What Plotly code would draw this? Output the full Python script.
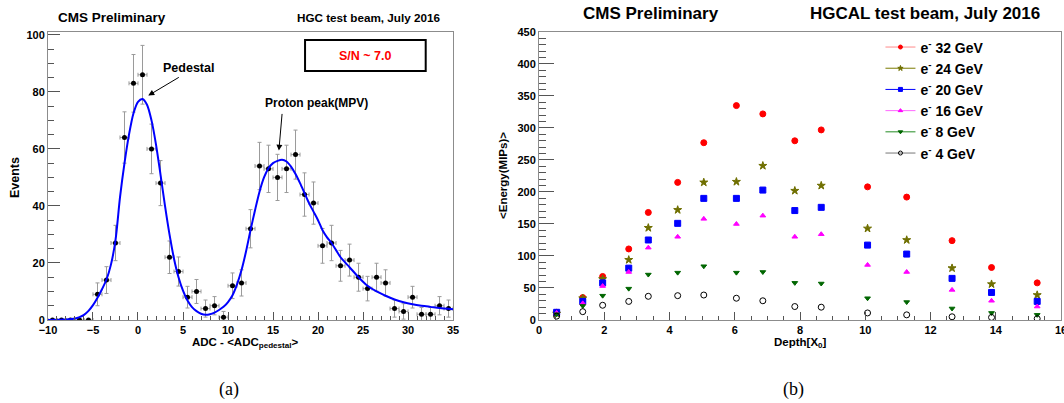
import numpy as np
import plotly.graph_objects as go

# ---------------- Panel (a) data ----------------
adc_bin_centers = [-9.5, -8.5, -7.5, -6.5, -5.5, -4.5, -3.5, -2.5, -1.5, -0.5,
                   0.5, 1.5, 2.5, 3.5, 4.5, 5.5, 6.5, 7.5, 8.5, 9.5,
                   10.5, 11.5, 12.5, 13.5, 14.5, 15.5, 16.5, 17.5, 18.5, 19.5,
                   20.5, 21.5, 22.5, 23.5, 24.5, 25.5, 26.5, 27.5, 28.5, 29.5,
                   30.5, 31.5, 32.5, 33.5, 34.5]
adc_counts = [0, 0, 0, 0, 0, 9, 14, 27, 64, 83,
              86, 60, 48, 22, 17, 8, 10, 4, 5, 1,
              12, 13, 32, 54, 53, 50, 53, 58, 44, 41,
              26, 27, 19, 21, 15, 11, 15, 13, 4, 3,
              8, 2, 2, 5, 4]
adc_errors = [0, 0, 0, 0, 0, 4.0, 4.7, 6.2, 9.0, 10.1,
              10.3, 8.7, 7.9, 5.7, 5.1, 3.8, 4.2, 3.0, 3.2, 2.0,
              4.5, 4.6, 6.7, 8.3, 8.3, 8.1, 8.3, 8.6, 7.6, 7.4,
              6.1, 6.2, 5.4, 5.6, 4.9, 4.3, 4.9, 4.6, 3.0, 2.7,
              3.8, 2.4, 2.4, 3.2, 3.0]
adc_bin_halfwidth = 0.5

# fit curve
fit_x = [-10, -9, -8, -7, -6.5, -6, -5.5, -5, -4.5, -4, -3.5, -3, -2.5, -2, -1.5, -1, -0.5,
         0, 0.5, 1, 1.5, 2, 2.5, 3, 3.5, 4, 4.5, 5, 5.5, 6, 6.5, 7, 7.5, 8, 8.5, 9, 9.5,
         10, 10.5, 11, 11.5, 12, 12.5, 13, 13.5, 14, 14.5, 15, 15.5, 16, 16.5, 17, 17.5,
         18, 18.5, 19, 19.5, 20, 20.5, 21, 21.5, 22, 22.5, 23, 23.5, 24.5, 25.5, 26.5,
         27.5, 28.5, 29.5, 30.5, 31.5, 32.5, 33.5, 34.5, 35]
fit_y = [0.0, 0.05, 0.15, 0.5, 1.0, 1.8, 3.2, 5.2, 7.8, 10.8, 14.2, 19.5, 28, 43, 55, 65, 72.5,
         76.5, 77.5, 75.5, 70, 61.5, 51, 40, 30, 21.5, 15, 10.3, 6.8, 4.5, 3.1, 2.2, 1.8, 2.0,
         2.6, 3.5, 4.6, 6.3, 8.7, 12.5, 17.5, 24, 31.5, 38.5, 45, 50, 53.2, 55, 55.8, 56.2,
         55.6, 53.8, 51.2, 48, 44.5, 41, 38, 35, 31.5, 29, 27, 24.5, 22, 20.2, 18.5, 15, 12,
         10, 8.5, 7.2, 6.2, 5.5, 5.0, 4.6, 4.2, 3.9, 3.8]

# ---------------- Panel (b) data ----------------
depth = [0.54, 1.34, 1.95, 2.75, 3.35, 4.25, 5.05, 6.05, 6.86, 7.84,
         8.65, 10.07, 11.27, 12.66, 13.87, 15.27]
e32 = [12, 35, 68, 111, 168, 215, 277, 335, 322, 280, 297, 208, 192, 124, 82, 58]
e24 = [10, 34, 64, 94, 144, 172, 215, 216, 241, 202, 210, 143, 125, 81, 56, 39]
e20 = [12, 29, 58, 81, 125, 151, 190, 190, 203, 171, 176, 117, 103, 65, 43, 29]
e16 = [11, 26, 53, 75, 113, 130, 158, 150, 163, 130, 134, 86, 75, 47, 30, 21]
e8 = [9, 22, 38, 49, 71, 74, 84, 74, 75, 58, 57, 34, 28, 18, 11, 8]
e4 = [6, 13, 23, 29, 37, 38, 39, 34, 30, 21, 20, 11, 8, 5, 4, 2]
series_names = ["e<sup>-</sup> 32 GeV", "e<sup>-</sup> 24 GeV", "e<sup>-</sup> 20 GeV",
                "e<sup>-</sup> 16 GeV", "e<sup>-</sup> 8 GeV", "e<sup>-</sup> 4 GeV"]

FONT = "Liberation Sans"
AX = "#8c8c8c"

fig = go.Figure()

# ---- panel (a) ----
fig.add_trace(go.Scatter(
    x=adc_bin_centers, y=adc_counts, mode="markers",
    marker=dict(color="black", size=5),
    error_y=dict(type="data", array=adc_errors, color="#9a9a9a", thickness=1, width=2),
    error_x=dict(type="constant", value=adc_bin_halfwidth, color="#9a9a9a", thickness=1, width=2),
    xaxis="x", yaxis="y", showlegend=False, hoverinfo="skip"))
fig.add_trace(go.Scatter(
    x=fit_x, y=fit_y, mode="lines", line=dict(color="#0000ff", width=2, shape="spline", smoothing=0.8),
    xaxis="x", yaxis="y", showlegend=False, hoverinfo="skip"))

# ---- panel (b) ----
styles = [
    dict(symbol="circle", color="#ff0000", size=6, line="#ff8a8a"),
    dict(symbol="star", color="#6f6f00", size=6, line="#7a7a00"),
    dict(symbol="square", color="#0000ff", size=6, line="#0000ff"),
    dict(symbol="triangle-up", color="#ff00ff", size=5, line="#ff66ff"),
    dict(symbol="triangle-down", color="#006600", size=5, line="#228b22"),
    dict(symbol="circle-open", color="#000000", size=6, line="#777777"),
]
for vals, name, st in zip([e32, e24, e20, e16, e8, e4], series_names, styles):
    fig.add_trace(go.Scatter(
        x=depth, y=vals, mode="markers",
        marker=dict(symbol=st["symbol"], color=st["color"], size=st["size"],
                    line=dict(color=st["color"], width=1)),
        xaxis="x2", yaxis="y2", showlegend=False, hoverinfo="skip"))
    fig.add_trace(go.Scatter(
        x=[None], y=[None], mode="lines+markers", name=name,
        line=dict(color=st["line"], width=1),
        marker=dict(symbol=st["symbol"], color=st["color"], size=max(st["size"] - 2, 4),
                    line=dict(color=st["color"], width=1)),
        xaxis="x2", yaxis="y2", showlegend=True))

tickfont = dict(family=FONT, size=11, color="black", weight="bold")
common = dict(showline=True, linecolor=AX, linewidth=1, mirror=True, ticks="inside",
              tickcolor="#555555", tickwidth=1, showgrid=False, zeroline=False,
              tickfont=tickfont, automargin=False, ticklabeloverflow="allow")

fig.update_layout(
    width=1064, height=403,
    margin=dict(l=0, r=0, t=0, b=0),
    paper_bgcolor="white", plot_bgcolor="white",
    font=dict(family=FONT, color="black"),
    xaxis=dict(domain=[0.0451, 0.4258], range=[-10, 35], tick0=-10, dtick=5, ticklen=8,
               minor=dict(dtick=1, ticklen=4, ticks="inside", tickcolor="#555555", showgrid=False),
               anchor="y", **common),
    yaxis=dict(domain=[0.206, 0.9206], range=[0, 101], tick0=0, dtick=20, ticklen=12,
               minor=dict(dtick=5, ticklen=6, ticks="inside", tickcolor="#555555", showgrid=False),
               anchor="x", **common),
    xaxis2=dict(domain=[0.5066, 0.9972], range=[0, 16], tick0=0, dtick=2, ticklen=8,
                minor=dict(dtick=0.5, ticklen=4, ticks="inside", tickcolor="#555555", showgrid=False),
                anchor="y2", **common),
    yaxis2=dict(domain=[0.206, 0.9206], range=[0, 450], tick0=0, dtick=50, ticklen=15,
                minor=dict(dtick=10, ticklen=7, ticks="inside", tickcolor="#555555", showgrid=False),
                anchor="x2", **common),
    legend=dict(x=0.8275, y=0.922, xanchor="left", yanchor="top",
                bgcolor="rgba(0,0,0,0)", borderwidth=0,
                font=dict(family=FONT, size=14, color="black", weight="bold"),
                itemwidth=30, tracegroupgap=0),
)

def ann(text, x, y, size, bold=True, color="black", xanchor="center", angle=0, family=FONT):
    fig.add_annotation(text=text, x=x, y=y, xref="paper", yref="paper", showarrow=False,
                       xanchor=xanchor, yanchor="middle", textangle=angle,
                       font=dict(family=family, size=size, color=color,
                                 weight="bold" if bold else "normal"))

# titles
ann("CMS Preliminary", 0.1053, 0.9578, 13.5)
ann("HGC test beam, July 2016", 0.4154, 0.9578, 11.7, xanchor="right")
ann("CMS Preliminary", 0.6114, 0.9677, 17)
ann("HGCAL test beam, July 2016", 0.8694, 0.9677, 17)
# axis titles
ann("Events", 0.0141, 0.5583, 12.5, angle=-90)
ann("ADC - &lt;ADC<sub>pedestal</sub>&gt;", 0.2307, 0.149, 11.5)
ann("&lt;Energy(MIPs)&gt;", 0.4727, 0.5658, 11.5, angle=-90)
ann("Depth[X<sub>0</sub>]", 0.7519, 0.149, 11.5)
# captions
ann("(a)", 0.2148, 0.0347, 18, bold=False, family="Liberation Serif")
ann("(b)", 0.7462, 0.0347, 18, bold=False, family="Liberation Serif")

# S/N box
fig.add_shape(type="rect", xref="paper", yref="paper", x0=0.2867, x1=0.4001, y0=0.8238, y1=0.9007,
              line=dict(color="black", width=2), fillcolor="white")
ann("S/N ~ 7.0", 0.3437, 0.861, 12.5, color="#ff0000")

# arrows
fig.add_annotation(x=1.14, y=78.7, ax=4.7, ay=85.4, xref="x", yref="y", axref="x", ayref="y",
                   showarrow=True, arrowhead=2, arrowsize=1.2, arrowwidth=1, arrowcolor="black", text="")
ann("Pedestal", 0.1776, 1 - 68 / 403, 12.5)
fig.add_annotation(x=15.65, y=59.4, ax=16.02, ay=72.8, xref="x", yref="y", axref="x", ayref="y",
                   showarrow=True, arrowhead=2, arrowsize=1.2, arrowwidth=1, arrowcolor="black", text="")
ann("Proton peak(MPV)", 0.297, 1 - 102.5 / 403, 12)

fig.write_html("out.html", config={"displayModeBar": False},
               post_script="document.body.style.margin='0';document.body.style.overflow='hidden';")
